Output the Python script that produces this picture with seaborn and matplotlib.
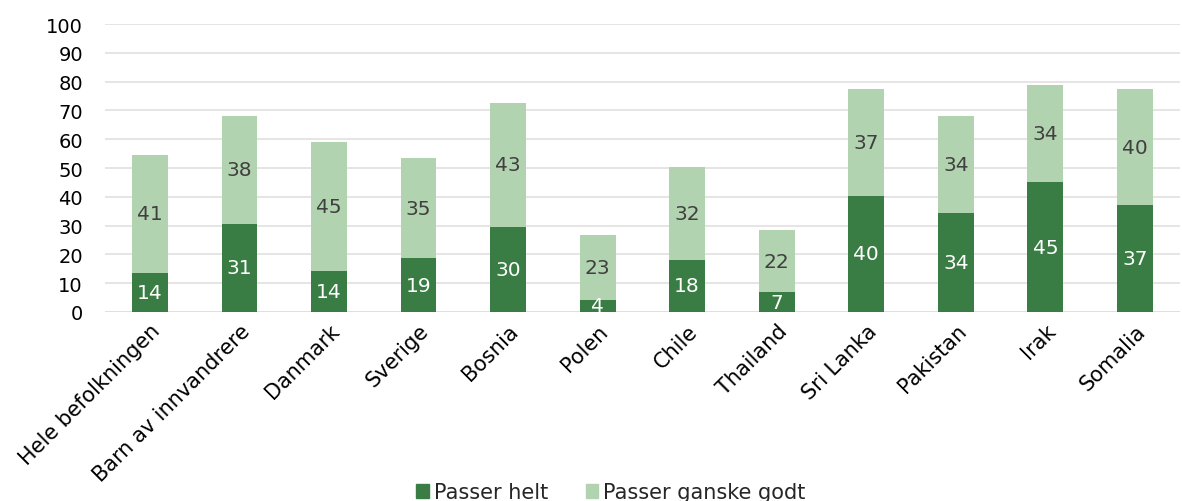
import pandas as pd
import matplotlib.pyplot as plt
import seaborn as sns
from matplotlib.patches import Patch

# values
categories = ['Hele befolkningen', 'Barn av innvandrere', 'Danmark', 'Sverige', 'Bosnia',
              'Polen', 'Chile', 'Thailand', 'Sri Lanka', 'Pakistan', 'Irak', 'Somalia']
passer_helt = [13.6, 30.6, 14.2, 18.6, 29.6, 4.2, 18.1, 6.9, 40.3, 34.4, 45.1, 37.2]
passer_godt = [41.1, 37.5, 45.0, 35.0, 43.0, 22.6, 32.4, 21.6, 37.1, 33.8, 33.7, 40.2]

dark = '#3A7D44'
light = '#B2D3AF'

df = pd.DataFrame({'Kategori': categories, 'helt': passer_helt, 'godt': passer_godt})
df['total'] = df['helt'] + df['godt']

sns.set_style('white')
plt.rcParams['font.family'] = ['DejaVu Sans']

fig = plt.figure(figsize=(11.82, 5.02), dpi=100)
ax = fig.add_axes([0.089, 0.3765, 0.909, 0.5735])

sns.barplot(data=df, x='Kategori', y='total', color=light, width=0.4,
            saturation=1, linewidth=0, ax=ax)
sns.barplot(data=df, x='Kategori', y='helt', color=dark, width=0.4,
            saturation=1, linewidth=0, ax=ax)

# data labels
for i, row in df.iterrows():
    ax.text(i, row['helt'] / 2, f"{row['helt']:.0f}", ha='center', va='center',
            color='white', fontsize=14.5)
    ax.text(i, row['helt'] + row['godt'] / 2, f"{row['godt']:.0f}", ha='center', va='center',
            color='#404040', fontsize=14.5)

ax.set_ylim(0, 100)
ax.set_xlim(-0.5, len(categories) - 0.5)
ax.set_yticks(range(0, 101, 10))
ax.yaxis.grid(True, color='#E2E0DE', linewidth=1.2)
ax.set_axisbelow(True)
for s in ax.spines.values():
    s.set_visible(False)
ax.axhline(0, color='#D9D9D9', linewidth=1.2, zorder=0)
ax.set_xlabel('')
ax.set_ylabel('')
ax.tick_params(axis='both', length=0, colors='black')
ax.tick_params(axis='y', pad=16, labelsize=14)
ax.tick_params(axis='x', pad=6, labelsize=15)
ax.set_xticks(range(len(categories)))
ax.set_xticklabels(categories, rotation=45, ha='right', rotation_mode='anchor')

handles = [Patch(color=dark, label='Passer helt'), Patch(color=light, label='Passer ganske godt')]
fig.legend(handles=handles, loc='lower center', bbox_to_anchor=(0.517, -0.04), ncol=2,
           frameon=False, fontsize=15, handlelength=0.6, handleheight=0.6,
           handletextpad=0.25, columnspacing=1.8)

fig.savefig('out.png', dpi=100)
